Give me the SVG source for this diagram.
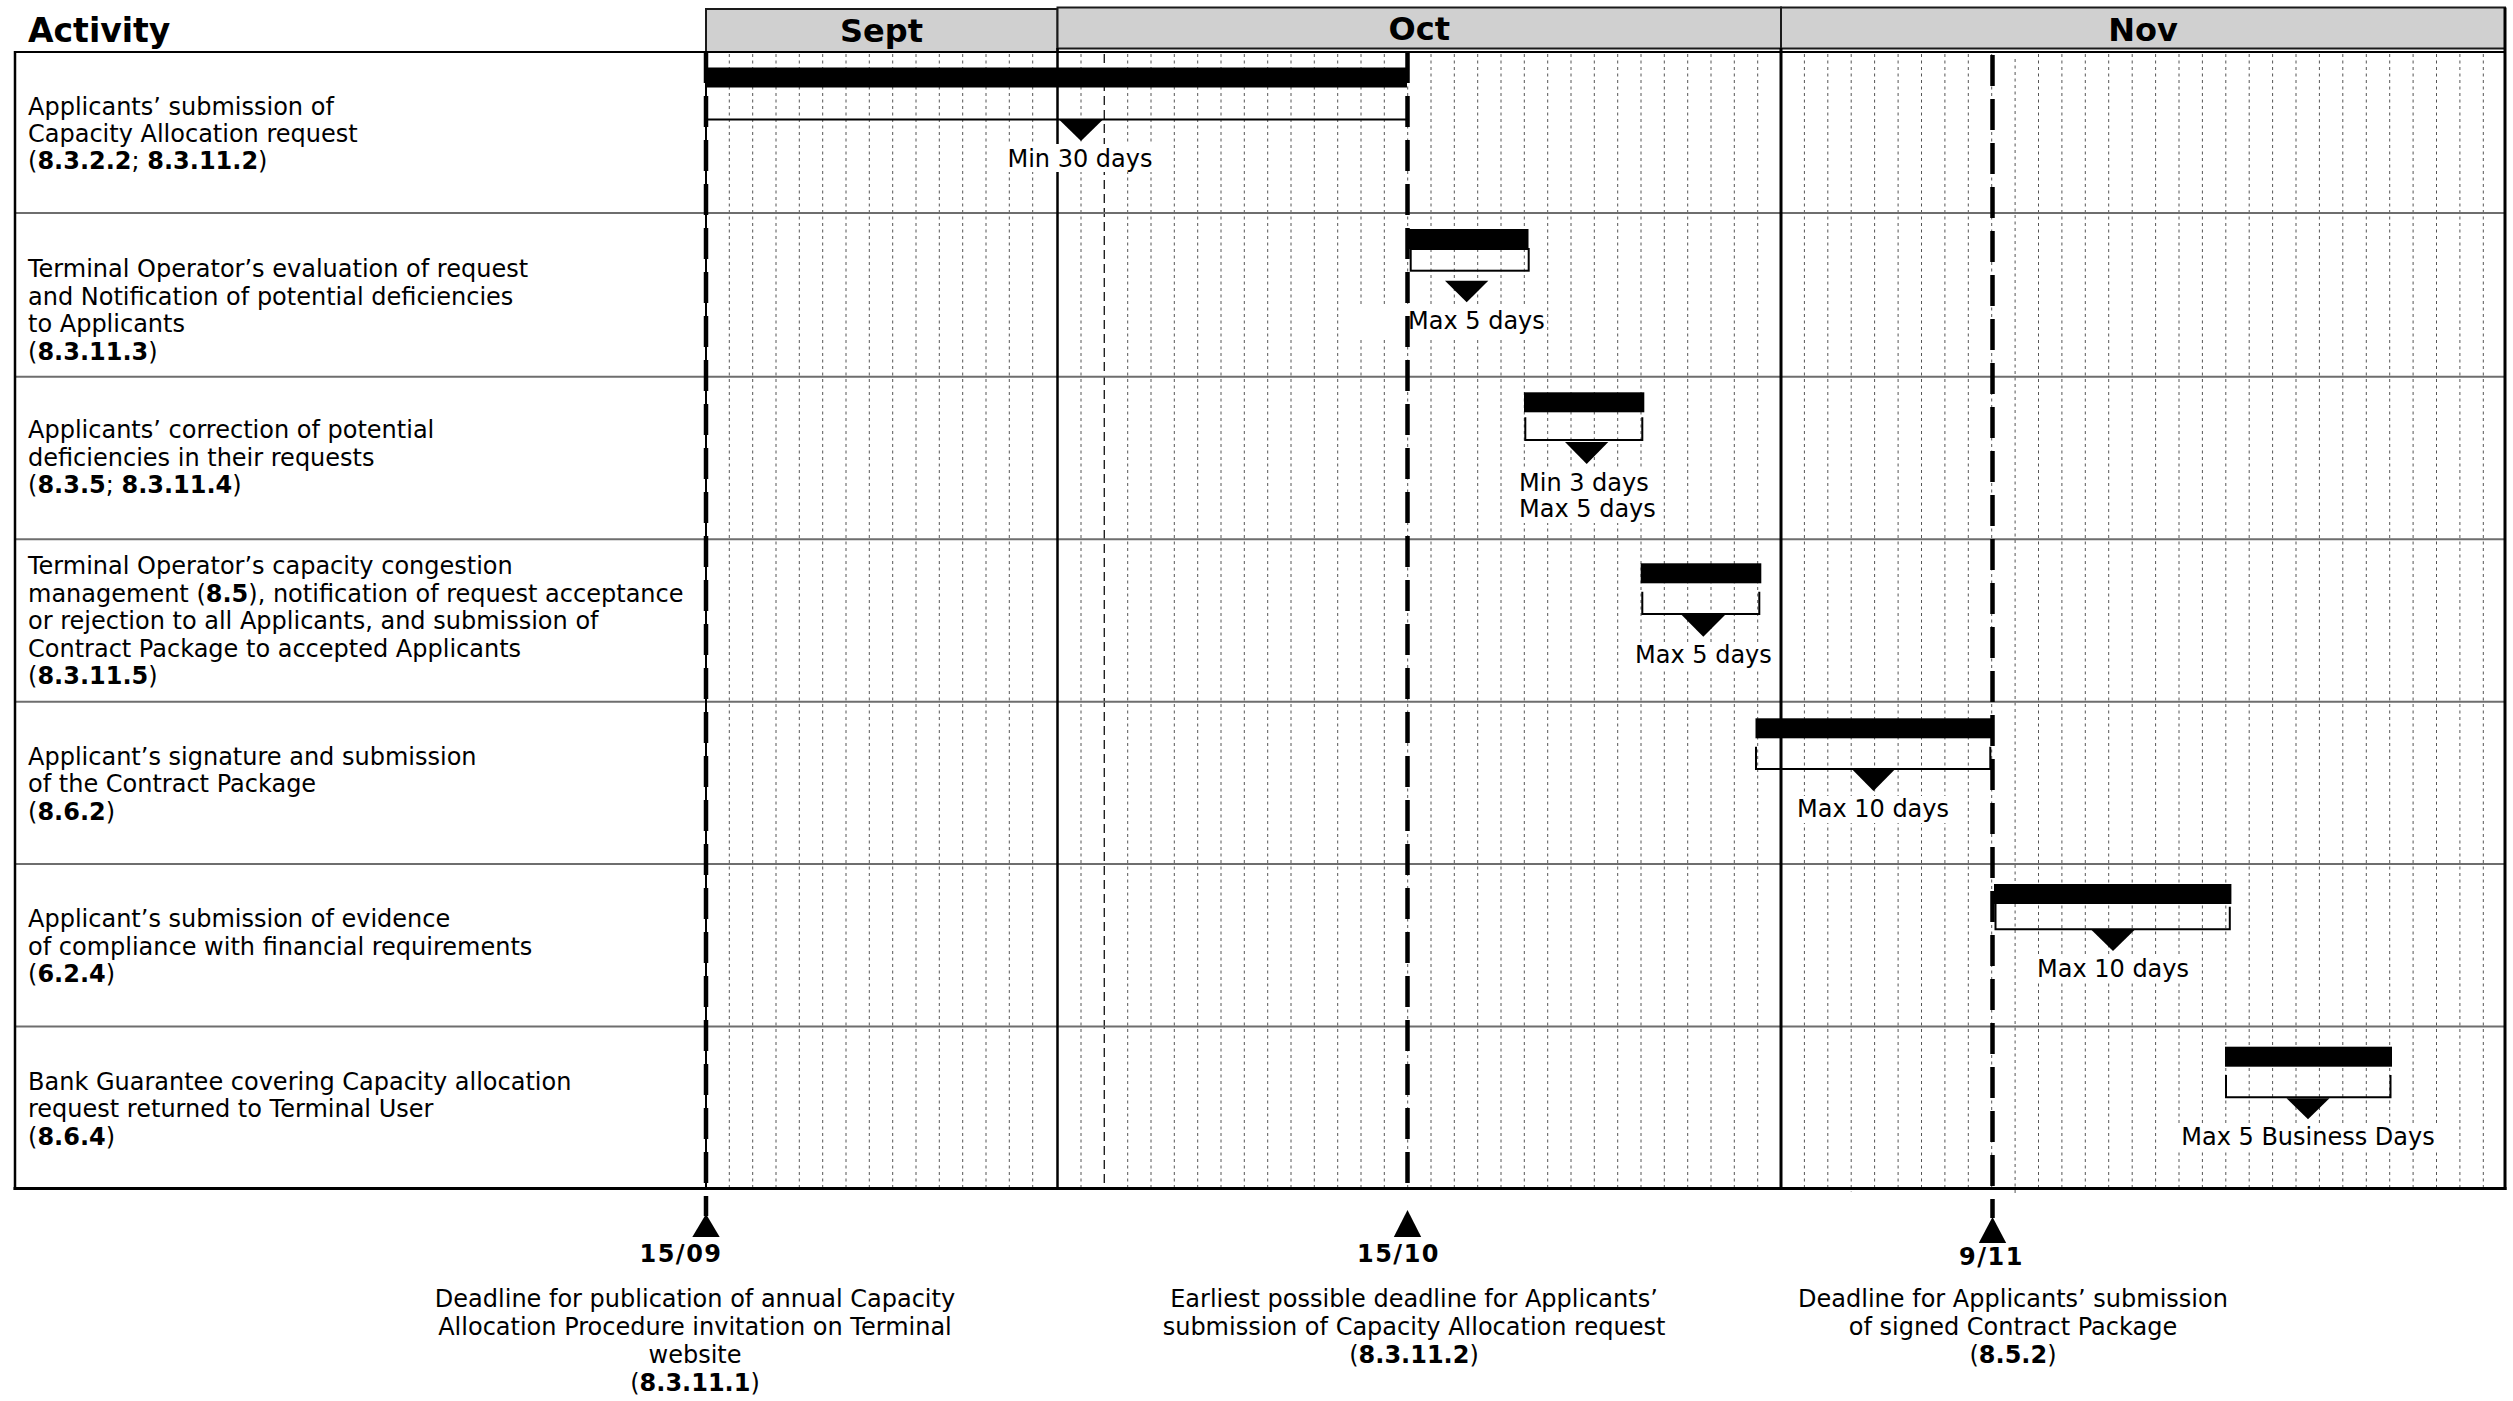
<svg xmlns="http://www.w3.org/2000/svg" width="2513" height="1401" viewBox="0 0 2513 1401">
<style>
text{font-family:"DejaVu Sans","Liberation Sans",Verdana,sans-serif;font-size:24px;fill:#000}
.b{font-weight:bold}
.hd{font-weight:bold;font-size:32px}
.ms{font-weight:bold;font-size:24px;letter-spacing:1.5px}
.mid{text-anchor:middle}
.hbox{fill:#d0d0d0;stroke:#1a1a1a;stroke-width:2}
.grid{fill:none;stroke:#555;stroke-width:1;stroke-dasharray:3 3.5}
.grid2{fill:none;stroke:#222;stroke-width:1.4;stroke-dasharray:9 5}
.rowline{stroke:#6e6e6e;stroke-width:2}
.frame{fill:none;stroke:#000}
.bar{fill:#000}
.brk{fill:none;stroke:#000;stroke-width:2}
.tri{fill:#000}
.lbg{fill:#fff}
.mile{fill:none;stroke:#000;stroke-width:4.5;stroke-dasharray:31 13}
</style>

<rect x="0" y="0" width="2513" height="1401" fill="#fff"/>

<g id="header">
  <text x="28" y="41.7" style="font-weight:bold;font-size:33px">Activity</text>
  <rect class="hbox" x="706" y="9" width="351.5" height="43"/>
  <text class="hd mid" x="881.5" y="42">Sept</text>
  <rect class="hbox" x="1057.5" y="7.5" width="723.5" height="41"/>
  <text class="hd mid" x="1419.3" y="39.5">Oct</text>
  <rect class="hbox" x="1781" y="7.5" width="724" height="41"/>
  <text class="hd mid" x="2143" y="41">Nov</text>
</g>

<g id="grid">
  <path class="grid" d="M729.3 54V1187M752.7 54V1187M776 54V1187M799.3 54V1187M822.7 54V1187M846 54V1187M869.3 54V1187M892.7 54V1187M916 54V1187M939.3 54V1187M962.7 54V1187M986 54V1187M1009.3 54V1187M1032.7 54V1187M1081 54V1187M1127.7 54V1187M1151 54V1187M1174.3 54V1187M1197.7 54V1187M1221 54V1187M1244.3 54V1187M1267.7 54V1187M1291 54V1187M1314.3 54V1187M1337.7 54V1187M1361 54V1187M1384.3 54V1187M1407.7 54V1187M1431 54V1187M1454.3 54V1187M1477.7 54V1187M1501 54V1187M1524.3 54V1187M1547.7 54V1187M1571 54V1187M1594.3 54V1187M1617.7 54V1187M1641 54V1187M1664.3 54V1187M1687.7 54V1187M1711 54V1187M1734.3 54V1187M1757.7 54V1187M1804.4 54V1187M1827.8 54V1187M1851.2 54V1192M1874.6 54V1187M1898.1 54V1187M1921.5 54V1187M1944.9 54V1187M1968.3 54V1187M1991.7 54V1187M2015.1 59V1196M2038.5 54V1187M2061.9 54V1187M2085.3 54V1187M2108.7 54V1187M2132.2 54V1187M2155.6 54V1187M2179 54V1187M2202.4 54V1187M2225.8 54V1187M2249.2 54V1187M2272.6 54V1187M2296 54V1187M2319.4 54V1187M2342.8 54V1187M2366.3 54V1187M2389.7 54V1187M2413.1 54V1187M2436.5 54V1187M2459.9 54V1187M2483.3 54V1187"/>
  <path class="grid2" d="M1104.3 54V1187"/>
  <g class="rowline">
    <line x1="15" y1="213" x2="2505" y2="213"/>
    <line x1="15" y1="376.7" x2="2505" y2="376.7"/>
    <line x1="15" y1="539.3" x2="2505" y2="539.3"/>
    <line x1="15" y1="701.7" x2="2505" y2="701.7"/>
    <line x1="15" y1="864" x2="2505" y2="864"/>
    <line x1="15" y1="1026.5" x2="2505" y2="1026.5"/>
  </g>
</g>

<g id="table-frame">
  <line class="frame" x1="14" y1="52" x2="2506" y2="52" stroke-width="2"/>
  <line class="frame" x1="15" y1="51" x2="15" y2="1190" stroke-width="2.5"/>
  <line class="frame" x1="13.5" y1="1188.5" x2="2506.5" y2="1188.5" stroke-width="3"/>
  <line class="frame" x1="2505" y1="7.5" x2="2505" y2="1190" stroke-width="3"/>
  <line class="frame" x1="706" y1="52" x2="706" y2="1188" stroke-width="2"/>
  <line class="frame" x1="1057.5" y1="48" x2="1057.5" y2="1188" stroke-width="2.5"/>
  <line class="frame" x1="1781" y1="48" x2="1781" y2="1188" stroke-width="3"/>
</g>

<g id="row1">
  <text x="28" y="115">Applicants’ submission of</text>
  <text x="28" y="141.7">Capacity Allocation request</text>
  <text x="28" y="169.3">(<tspan class="b">8.3.2.2</tspan>; <tspan class="b">8.3.11.2</tspan>)</text>
  <rect class="bar" x="706" y="67.5" width="701" height="20"/>
  <path class="brk" d="M706 97V119.5H1407V97"/>
  <polygon class="tri" points="1059.5,120 1102.5,120 1081,141"/>
  <rect class="lbg" x="1005" y="144" width="150" height="28"/>
  <text class="mid" x="1080" y="166.7">Min 30 days</text>
</g>

<g id="row2">
  <text x="28" y="276.7">Terminal Operator’s evaluation of request</text>
  <text x="28" y="304.5">and Notification of potential deficiencies</text>
  <text x="28" y="332">to Applicants</text>
  <text x="28" y="359.7">(<tspan class="b">8.3.11.3</tspan>)</text>
  <rect class="bar" x="1406" y="229" width="122.5" height="20"/>
  <rect class="brk" x="1410.7" y="249" width="118" height="21.7"/>
  <polygon class="tri" points="1445,280.7 1488.3,280.7 1466.7,302.3"/>
  <rect class="lbg" x="1352" y="307" width="194" height="30"/>
  <text x="1408" y="329.3">Max 5 days</text>
</g>

<g id="row3">
  <text x="28" y="438.3">Applicants’ correction of potential</text>
  <text x="28" y="466">deficiencies in their requests</text>
  <text x="28" y="493.3">(<tspan class="b">8.3.5</tspan>; <tspan class="b">8.3.11.4</tspan>)</text>
  <rect class="bar" x="1524" y="392.3" width="120.3" height="20"/>
  <path class="brk" d="M1525.3 417.3V440H1642.3V417.3"/>
  <polygon class="tri" points="1565,442 1608.3,442 1586.7,464"/>
  <rect class="lbg" x="1516" y="470" width="141" height="53"/>
  <text x="1519" y="490.7">Min 3 days</text>
  <text x="1519" y="517.3">Max 5 days</text>
</g>

<g id="row4">
  <text x="28" y="574">Terminal Operator’s capacity congestion</text>
  <text x="28" y="601.7">management (<tspan class="b">8.5</tspan>), notification of request acceptance</text>
  <text x="28" y="629.3">or rejection to all Applicants, and submission of</text>
  <text x="28" y="656.7">Contract Package to accepted Applicants</text>
  <text x="28" y="684">(<tspan class="b">8.3.11.5</tspan>)</text>
  <rect class="bar" x="1640.7" y="563.3" width="120.6" height="20"/>
  <path class="brk" d="M1642.3 591.7V614H1759.3V591.7"/>
  <polygon class="tri" points="1681.7,615 1725,615 1703.3,636.7"/>
  <rect class="lbg" x="1633" y="642" width="141" height="27"/>
  <text class="mid" x="1703.4" y="663.3">Max 5 days</text>
</g>

<g id="row5">
  <text x="28" y="765">Applicant’s signature and submission</text>
  <text x="28" y="792.4">of the Contract Package</text>
  <text x="28" y="819.7">(<tspan class="b">8.6.2</tspan>)</text>
  <rect class="bar" x="1755.5" y="718.3" width="238.5" height="20"/>
  <path class="brk" d="M1756 746.7V769H1990.3V746.7"/>
  <polygon class="tri" points="1852,769.3 1895,769.3 1873.5,791"/>
  <rect class="lbg" x="1795" y="796" width="157" height="27"/>
  <text class="mid" x="1873" y="816.7">Max 10 days</text>
</g>

<g id="row6">
  <text x="28" y="927.2">Applicant’s submission of evidence</text>
  <text x="28" y="954.5">of compliance with financial requirements</text>
  <text x="28" y="982.2">(<tspan class="b">6.2.4</tspan>)</text>
  <rect class="bar" x="1994" y="884" width="237.4" height="20"/>
  <path class="brk" d="M1995.5 904V929.3H2229.8V906.7"/>
  <polygon class="tri" points="2091.5,930 2134.5,930 2113,951"/>
  <rect class="lbg" x="2035" y="956" width="157" height="27"/>
  <text class="mid" x="2113" y="976.7">Max 10 days</text>
</g>

<g id="row7">
  <text x="28" y="1089.5">Bank Guarantee covering Capacity allocation</text>
  <text x="28" y="1116.9">request returned to Terminal User</text>
  <text x="28" y="1144.5">(<tspan class="b">8.6.4</tspan>)</text>
  <rect class="bar" x="2225" y="1046.7" width="167" height="20"/>
  <path class="brk" d="M2226 1075V1097.3H2390.5V1075"/>
  <polygon class="tri" points="2286.5,1098.3 2329.5,1098.3 2308,1119.3"/>
  <rect class="lbg" x="2178" y="1124" width="260" height="27"/>
  <text class="mid" x="2308" y="1145">Max 5 Business Days</text>
</g>

<g id="connectors">
  <path class="mile" d="M706 52V1216"/>
  <path class="mile" d="M1407.5 52V1188"/>
  <path class="mile" d="M1992.5 55V1218"/>
</g>

<g id="milestone-1509">
  <polygon class="tri" points="706,1214 692.3,1237 719.7,1237"/>
  <text class="ms mid" x="681" y="1261.7">15/09</text>
  <text class="mid" x="695" y="1306.7">Deadline for publication of annual Capacity</text>
  <text class="mid" x="695" y="1335">Allocation Procedure invitation on Terminal</text>
  <text class="mid" x="695" y="1363">website</text>
  <text class="mid" x="695" y="1391">(<tspan class="b">8.3.11.1</tspan>)</text>
</g>

<g id="milestone-1510">
  <polygon class="tri" points="1407.5,1210 1393.8,1237 1421.2,1237"/>
  <text class="ms mid" x="1398.5" y="1262.3">15/10</text>
  <text class="mid" x="1414" y="1306.7">Earliest possible deadline for Applicants’</text>
  <text class="mid" x="1414" y="1335">submission of Capacity Allocation request</text>
  <text class="mid" x="1414" y="1363.3">(<tspan class="b">8.3.11.2</tspan>)</text>
</g>

<g id="milestone-0911">
  <polygon class="tri" points="1992.5,1217 1978.8,1243 2006.2,1243"/>
  <text class="ms mid" x="1991.5" y="1265">9/11</text>
  <text class="mid" x="2013" y="1306.7">Deadline for Applicants’ submission</text>
  <text class="mid" x="2013" y="1335">of signed Contract Package</text>
  <text class="mid" x="2013" y="1363.3">(<tspan class="b">8.5.2</tspan>)</text>
</g>
</svg>
